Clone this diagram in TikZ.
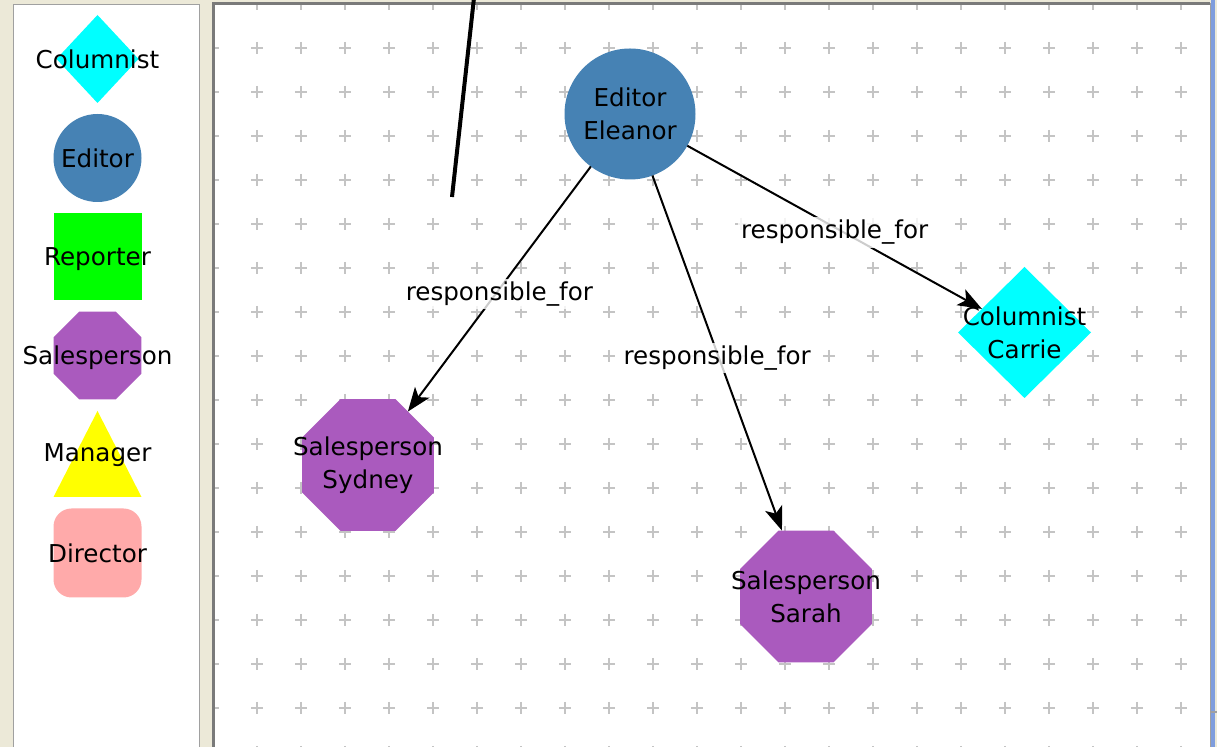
\documentclass[tikz,border=0pt]{standalone}
\usepackage{fontspec}
\setmainfont{DejaVu Sans}
\usetikzlibrary{shapes.geometric,arrows.meta}
\definecolor{beigebg}{HTML}{ECE9D8}
\definecolor{panelgrey}{HTML}{A0A0A0}
\definecolor{darkborder}{HTML}{7A7A7A}
\definecolor{gridc}{HTML}{C4C4C4}
\definecolor{cyanc}{HTML}{00FFFF}
\definecolor{steelc}{HTML}{4682B4}
\definecolor{greenc}{HTML}{00FF00}
\definecolor{purplec}{HTML}{AA5ABE}
\definecolor{yellowc}{HTML}{FFFF00}
\definecolor{pinkc}{HTML}{FFAAAA}
\definecolor{bluebar}{HTML}{7F9DDD}
\tikzset{
  txt/.style={font=\fontsize{12.3}{16.5}\selectfont, text=black, align=center, inner sep=0pt},
  shp/.style={draw=none, inner sep=0pt, outer sep=0pt},
  circ/.style={shp, circle, fill=steelc},
  diam/.style={shp, diamond, fill=cyanc},
  octa/.style={shp, regular polygon, regular polygon sides=8, fill=purplec},
  sq/.style={shp, rectangle, fill=greenc},
  edge/.style={draw=black, line width=1pt, -{Stealth[length=12pt,width=9pt,inset=3pt]}},
  lbl/.style={txt, fill=white, fill opacity=0.8, text opacity=1, inner sep=1.5pt, yshift=-2.5pt},
  gridplus/.style={draw=gridc, line width=0.7pt}
}
\begin{document}
\begin{tikzpicture}[x=0.5pt,y=-0.5pt]
\useasboundingbox (0,0) rectangle (1217,747);
% backgrounds
\fill[beigebg] (0,0) rectangle (1217,747);
\fill[white] (13,4) rectangle (200,747);
\draw[panelgrey, line width=0.8pt] (13.5,747) -- (13.5,4.5) -- (199.5,4.5) -- (199.5,747);
\fill[white] (214,4) rectangle (1210,747);
% grid
\begin{scope}
\clip (215,5) rectangle (1210,747);
\foreach \i in {0,...,22} {
  \foreach \j in {0,...,17} {
    \draw[gridplus] ({213+44*\i-6},{4+44*\j}) -- ++(12,0) ({213+44*\i},{4+44*\j-6}) -- ++(0,12);
  }
}
\end{scope}
\draw[darkborder, line width=1.2pt] (213.5,747) -- (213.5,3.5) -- (1210,3.5);
\draw[panelgrey, line width=0.5pt] (1210,3) -- (1210,747);
\fill[bluebar] (1211,0) rectangle (1215,747);
\draw[panelgrey, line width=0.8pt] (1210,712) -- (1217,712);

% palette
\node[diam, minimum width=41pt, minimum height=44pt, label={[txt]center:Columnist}] (pcol) at (97.5,59) {};
\node[circ, minimum size=44pt, label={[txt]center:Editor}] (pedit) at (97.5,158) {};
\node[sq, minimum width=44pt, minimum height=43.5pt, label={[txt, yshift=-1.5pt]center:Reporter}] (prep) at (97.5,256.5) {};
\node[octa, minimum size=47.6pt, label={[txt, yshift=-1pt]center:Salesperson}] (psales) at (97.5,355.5) {};
\fill[yellowc] (97.5,411) -- (141.5,497) -- (53.5,497) -- cycle;
\node[txt] (pmgr) at (97.5,455) {Manager};
\node[shp, fill=pinkc, minimum width=44pt, minimum height=44.5pt, rounded corners=9pt, label={[txt]center:Director}] (pdir) at (97.5,553) {};

% canvas nodes
\node[circ, minimum size=65.5pt, label={[txt]center:Editor\\Eleanor}] (eleanor) at (630,114) {};
\node[diam, minimum width=66.5pt, minimum height=65.5pt, label={[txt]center:Columnist\\Carrie}] (carrie) at (1024.5,332.5) {};
\node[octa, minimum size=71.4pt, label={[txt]center:Salesperson\\Sydney}] (sydney) at (368,465) {};
\node[octa, minimum size=71.4pt, label={[txt]center:Salesperson\\Sarah}] (sarah) at (806,596.5) {};

% connectors
\draw[edge] (eleanor) -- node[lbl]{responsible\_for} (sydney);
\draw[edge] (eleanor) -- node[lbl]{responsible\_for} (sarah);
\draw[edge] (eleanor) -- node[lbl]{responsible\_for} (carrie);

% stray line
\coordinate (ls) at (474,-2);
\coordinate (le) at (452,197);
\draw[black, line width=2pt] (ls) -- (le);
\end{tikzpicture}
\end{document}
